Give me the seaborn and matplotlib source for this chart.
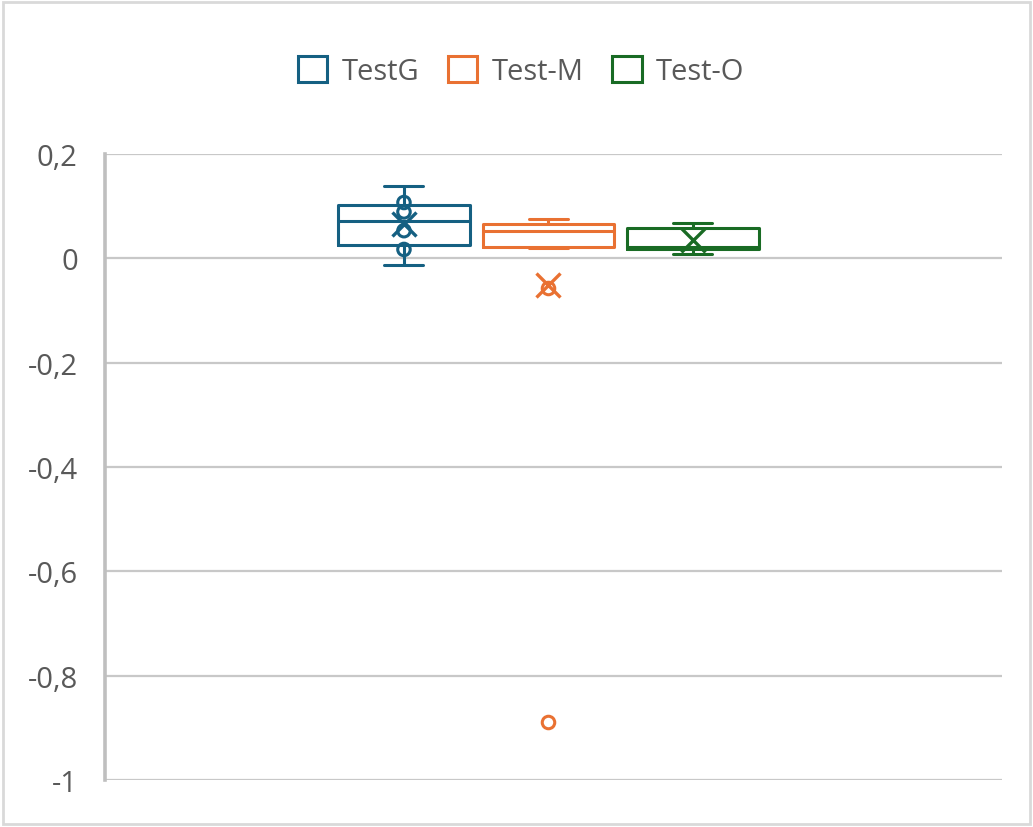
import matplotlib
matplotlib.use("Agg")
import matplotlib.pyplot as plt
import matplotlib.patches as mpatches
import numpy as np
import pandas as pd
import seaborn as sns

# series names and colours (Office theme)
series_names = ["TestG", "Test-M", "Test-O"]
series_colors = ["#156082", "#E97132", "#196B24"]

# values
test_g = [-0.013, 0.017, 0.053, 0.089, 0.107, 0.138]
test_m = [-0.888, -0.056, 0.020, 0.024, 0.050, 0.056, 0.064, 0.066, 0.071, 0.076]
test_o = [0.008, 0.017, 0.020, 0.022, 0.056, 0.062, 0.067]

y_ticks = [0.2, 0, -0.2, -0.4, -0.6, -0.8, -1]

df = pd.concat([
    pd.DataFrame({"series": name, "value": vals})
    for name, vals in zip(series_names, [test_g, test_m, test_o])
], ignore_index=True)

sns.set_style("white")
plt.rcParams["font.family"] = ["Open Sans", "DejaVu Sans"]
text_color = "#595959"
grid_color = "#C8C8C8"

fig = plt.figure(figsize=(10.33, 8.28), dpi=100)
ax = fig.add_axes([0.1016, 0.0568, 0.8684, 0.756])

for name, col in zip(series_names, series_colors):
    sub = df[df["series"] == name]
    sns.boxplot(
        data=sub, x="series", y="value", order=series_names,
        color=col, fill=False, width=0.91, linewidth=2.2,
        showmeans=True, capwidths=0.27,
        meanprops=dict(marker="x", markeredgecolor=col, markersize=17,
                       markeredgewidth=2.4),
        flierprops=dict(marker="o", markeredgecolor=col, markerfacecolor="none",
                        markersize=9, markeredgewidth=2.2),
        ax=ax,
    )

# inner points (between the whisker ends) are shown only for TestG
g = df[df["series"] == "TestG"]
g_inner = g[(g["value"] > g["value"].min()) & (g["value"] < g["value"].max())]
sns.stripplot(
    data=g_inner, x="series", y="value", order=series_names,
    jitter=False, color=series_colors[0], facecolor="none",
    edgecolor=series_colors[0], linewidth=2.2, size=9, ax=ax,
)

ax.set_xlim(-2.07, 4.14)
ax.set_ylim(-1, 0.2)
ax.set_yticks(y_ticks)
ax.set_yticklabels([f"{t:g}".replace(".", ",") for t in y_ticks])
ax.set_xticks([])
ax.set_xlabel("")
ax.set_ylabel("")
ax.tick_params(axis="y", length=0, pad=19.5, labelsize=21, labelcolor=text_color)

ax.yaxis.grid(True, color=grid_color, linewidth=1.6)
ax.set_axisbelow(True)
for side in ["top", "right", "bottom"]:
    ax.spines[side].set_visible(False)
ax.spines["left"].set_color("#BFBFBF")
ax.spines["left"].set_linewidth(2.6)

handles = [mpatches.Patch(facecolor="none", edgecolor=c, linewidth=2.2, label=n)
           for n, c in zip(series_names, series_colors)]
leg = fig.legend(handles=handles, loc="center", bbox_to_anchor=(0.5044, 0.913),
                 ncol=3, frameon=False, fontsize=21, handlelength=1.0,
                 handleheight=1.0, handletextpad=0.48, columnspacing=1.0)
for t in leg.get_texts():
    t.set_color(text_color)

# outer chart border
fig.patches.append(mpatches.Rectangle((0.003, 0.004), 0.994, 0.992, transform=fig.transFigure,
                                      fill=False, edgecolor="#D9D9D9", linewidth=2))

fig.savefig("out.png", dpi=100, facecolor="white")
